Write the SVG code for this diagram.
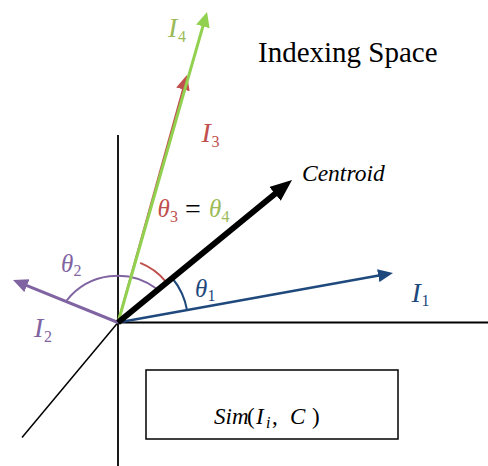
<svg xmlns="http://www.w3.org/2000/svg" width="488" height="466" viewBox="0 0 488 466">
<style>
.axis{stroke:#000;stroke-width:1.8;fill:none}
.arc{fill:none;stroke-width:2}
.mi{font-family:"Liberation Serif","Times New Roman",serif;font-style:italic}
.up{font-family:"Liberation Serif","Times New Roman",serif;font-style:normal}
.big{font-size:28px}
.th{font-size:25px}
.sub{font-size:16px;font-style:normal}
.subi{font-size:16px}
</style>
<defs>
<marker id="mGreen" viewBox="0 0 15 14" markerWidth="15" markerHeight="14" refX="8" refY="7" orient="auto" markerUnits="userSpaceOnUse"><path d="M0,0 L15,7 L0,14 z" fill="#92d050"/></marker>
<marker id="mRed" viewBox="0 0 15 14" markerWidth="15" markerHeight="14" refX="8" refY="7" orient="auto" markerUnits="userSpaceOnUse"><path d="M0,0 L15,7 L0,14 z" fill="#c0504d"/></marker>
<marker id="mBlack" viewBox="0 0 22 18" markerWidth="22" markerHeight="18" refX="12" refY="9" orient="auto" markerUnits="userSpaceOnUse"><path d="M0,0 L22,9 L0,18 z" fill="#000"/></marker>
<marker id="mBlue" viewBox="0 0 15 13" markerWidth="15" markerHeight="13" refX="9" refY="6.5" orient="auto" markerUnits="userSpaceOnUse"><path d="M0,0 L15,6.5 L0,13 z" fill="#1f497d"/></marker>
<marker id="mPurple" viewBox="0 0 15 14" markerWidth="15" markerHeight="14" refX="8" refY="7" orient="auto" markerUnits="userSpaceOnUse"><path d="M0,0 L15,7 L0,14 z" fill="#8064a2"/></marker>
</defs>
<rect width="488" height="466" fill="#fff"/>

<g id="axes">
<line class="axis" x1="118" y1="135" x2="118" y2="466"/>
<line class="axis" x1="118" y1="322.5" x2="488" y2="322.5"/>
<line class="axis" x1="118" y1="322.5" x2="22" y2="437.5" style="stroke-width:1.5"/>
</g>

<g id="arcs">
<path class="arc" stroke="#8064a2" d="M66.7,300.5 A65,65 0 0 1 156.7,288.8"/>
<path class="arc" stroke="#c0504d" d="M140.2,262.9 A63,63 0 0 1 165.6,281.4"/>
<path class="arc" stroke="#1f497d" d="M187,310 A70,70 0 0 0 172.2,278"/>
</g>

<g id="connectors">
<line x1="118" y1="322.5" x2="185.1" y2="81.7" stroke="#c0504d" stroke-width="2" marker-end="url(#mRed)"/>
<line x1="118" y1="322.5" x2="205.1" y2="18.7" stroke="#92d050" stroke-width="3" marker-end="url(#mGreen)"/>
<line x1="118" y1="322.5" x2="387.1" y2="274.1" stroke="#1f497d" stroke-width="2.5" marker-end="url(#mBlue)"/>
<line x1="118" y1="322.5" x2="19.5" y2="282.6" stroke="#8064a2" stroke-width="3" marker-end="url(#mPurple)"/>
<line x1="118" y1="322.5" x2="284.3" y2="186.3" stroke="#000" stroke-width="6" marker-end="url(#mBlack)"/>
</g>

<g id="title">
<text x="258" y="62" class="up" font-size="29" fill="#000">Indexing Space</text>
</g>

<g id="centroid-label">
<text x="302" y="181" class="mi" font-size="23.5" fill="#000">Centroid</text>
</g>

<g id="label-I4">
<text class="mi big" fill="#9bbb59"><tspan x="168" y="37">I</tspan><tspan class="sub" x="178" y="42">4</tspan></text>
</g>
<g id="label-I3">
<text class="mi big" fill="#c0504d"><tspan x="201.5" y="141.7">I</tspan><tspan class="sub" x="211.5" y="146.7">3</tspan></text>
</g>
<g id="label-I2">
<text class="mi big" fill="#8064a2"><tspan x="34" y="336.7">I</tspan><tspan class="sub" x="44" y="341.7">2</tspan></text>
</g>
<g id="label-I1">
<text class="mi big" fill="#1f497d"><tspan x="411.5" y="301.7">I</tspan><tspan class="sub" x="421.5" y="305.5">1</tspan></text>
</g>

<g id="label-theta2">
<text class="mi th" fill="#8064a2"><tspan x="61" y="272">θ</tspan><tspan class="sub" x="73.5" y="276">2</tspan></text>
</g>
<g id="label-theta1">
<text class="mi th" fill="#1f497d"><tspan x="195" y="296.7">θ</tspan><tspan class="sub" x="207.5" y="300.7">1</tspan></text>
</g>
<g id="label-theta34">
<text class="mi th"><tspan x="157.5" y="217" fill="#c0504d">θ</tspan><tspan class="sub" x="170" y="222" fill="#c0504d">3</tspan><tspan class="up" x="185" y="218" font-size="28" fill="#000">=</tspan><tspan x="209" y="217" fill="#9bbb59">θ</tspan><tspan class="sub" x="221.5" y="222" fill="#9bbb59">4</tspan></text>
</g>

<g id="sim-box">
<rect x="146" y="370" width="252" height="69" fill="none" stroke="#000" stroke-width="1.5"/>
<text class="mi" font-size="23" fill="#000"><tspan x="214" y="424">Sim</tspan><tspan class="up" x="247" y="424">(</tspan><tspan x="256" y="424">I</tspan><tspan class="subi" x="266" y="428">i</tspan><tspan class="up" x="272" y="424">,</tspan><tspan x="290" y="424">C</tspan><tspan class="up" x="312" y="424">)</tspan></text>
</g>
</svg>
